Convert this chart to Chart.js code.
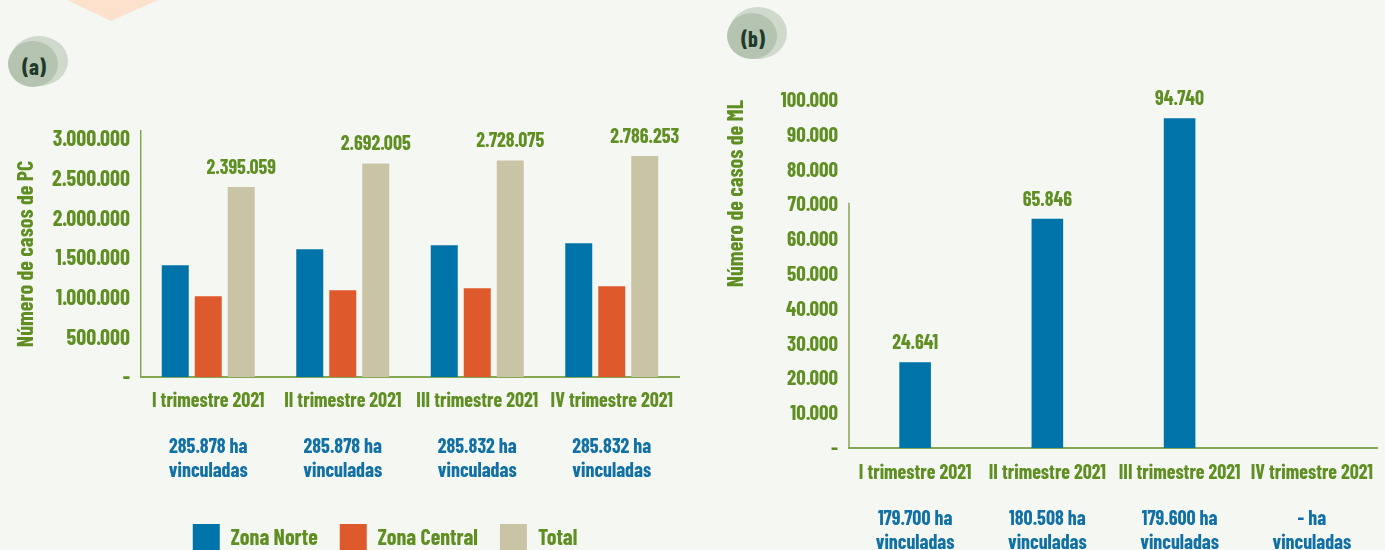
<!DOCTYPE html>
<html><head><meta charset="utf-8">
<script src="https://cdn.jsdelivr.net/npm/chart.js@4.4.1/dist/chart.umd.min.js"></script>
<style>
html,body{margin:0;padding:0;background:#f5f7f2;width:1385px;height:550px;overflow:hidden;}
#wrap{position:relative;width:1385px;height:550px;}
canvas{position:absolute;top:0;}
#ca{left:0;} #cb{left:690px;}
.badge{position:absolute;font-family:'Barlow Condensed','Roboto Condensed',sans-serif;font-weight:bold;font-size:22px;color:#1f3a2b;transform:translate(-50%,-50%);line-height:1;}
</style></head>
<body><div id="wrap">
<svg width="1385" height="550" style="position:absolute;left:0;top:0">
  <polygon points="67,0 158,0 111,21" fill="#fde1cd"/>
  <ellipse cx="39" cy="61" rx="29" ry="25" fill="#cfdacc"/>
  <ellipse cx="33" cy="64" rx="25" ry="23" fill="#b4c4b0"/>
  <ellipse cx="758" cy="33" rx="29" ry="26" fill="#cfdacc"/>
  <ellipse cx="752" cy="36" rx="25" ry="23" fill="#b4c4b0"/>
</svg>
<div class="badge" style="left:34px;top:66px">(a)</div>
<div class="badge" style="left:753px;top:38px">(b)</div>
<canvas id="ca" width="770" height="561"></canvas>
<canvas id="cb" width="695" height="600"></canvas>
</div>
<script>
// ---- data ----
const categories = ['I trimestre 2021', 'II trimestre 2021', 'III trimestre 2021', 'IV trimestre 2021'];
const haVinculadasA = [['285.878 ha', 'vinculadas'], ['285.878 ha', 'vinculadas'], ['285.832 ha', 'vinculadas'], ['285.832 ha', 'vinculadas']];
const zonaNorte = [1408000, 1609000, 1660000, 1685000];
const zonaCentral = [1017000, 1093000, 1118000, 1143000];
const totalPC = [2395059, 2692005, 2728075, 2786253];
const ticksPC = [0, 500000, 1000000, 1500000, 2000000, 2500000, 3000000];
const casosML = [24641, 65846, 94740, null];
const ticksML = [0, 10000, 20000, 30000, 40000, 50000, 60000, 70000, 80000, 90000, 100000];
const haVinculadasB = [['179.700 ha', 'vinculadas'], ['180.508 ha', 'vinculadas'], ['179.600 ha', 'vinculadas'], ['- ha', 'vinculadas']];
const seriesNames = ['Zona Norte', 'Zona Central', 'Total'];

// ---- style ----
const FONT = "'Barlow Condensed','Roboto Condensed','Open Sans Condensed',sans-serif";
const GREEN = '#5f8f22';
const BLUE_TXT = '#1170a5';
const C_BLUE = '#0074a9', C_ORANGE = '#de592c', C_BEIGE = '#c9c4a5';
const AXIS = '#84a852';

Chart.defaults.font.family = FONT;
Chart.defaults.font.weight = 'bold';
Chart.defaults.color = GREEN;

function fmt(v) {
  if (v === 0) return '-';
  return String(Math.round(v)).replace(/\B(?=(\d{3})+(?!\d))/g, '.');
}
const fixedTicks = arr => s => { s.ticks = arr.map(v => ({ value: v })); };

const valueLabels = {
  id: 'valueLabels',
  afterDatasetsDraw(chart, args, opts) {
    const ctx = chart.ctx;
    (opts.datasets || []).forEach(di => {
      const meta = chart.getDatasetMeta(di);
      meta.data.forEach((el, i) => {
        const v = chart.data.datasets[di].data[i];
        if (v == null) return;
        ctx.save();
        ctx.font = 'bold 20px ' + FONT;
        ctx.fillStyle = GREEN;
        ctx.textAlign = 'center';
        ctx.textBaseline = 'middle';
        ctx.fillText(fmt(v), el.x, el.y - 20);
        ctx.restore();
      });
    });
  }
};

const partialAxis = {
  id: 'partialAxis',
  afterDraw(chart, args, opts) {
    if (opts.from == null) return;
    const y = chart.scales.y;
    const ctx = chart.ctx;
    ctx.save();
    ctx.strokeStyle = AXIS;
    ctx.lineWidth = 1.5;
    ctx.beginPath();
    ctx.moveTo(y.right, y.getPixelForValue(opts.from));
    ctx.lineTo(y.right, y.getPixelForValue(0));
    ctx.stroke();
    ctx.restore();
  }
};

// ---- chart (a) ----
new Chart(document.getElementById('ca'), {
  type: 'bar',
  data: {
    labels: categories,
    datasets: [
      { label: seriesNames[0], data: zonaNorte, backgroundColor: C_BLUE },
      { label: seriesNames[1], data: zonaCentral, backgroundColor: C_ORANGE },
      { label: seriesNames[2], data: totalPC, backgroundColor: C_BEIGE }
    ]
  },
  options: {
    responsive: false,
    animation: false,
    devicePixelRatio: 1,
    layout: { padding: { top: 131, right: 0, bottom: 0, left: 0 } },
    datasets: { bar: { categoryPercentage: 0.736, barPercentage: 0.818 } },
    plugins: {
      tooltip: { enabled: false },
      valueLabels: { datasets: [2] },
      legend: {
        position: 'bottom',
        labels: { boxWidth: 27, boxHeight: 27, padding: 22, color: GREEN, font: { size: 22, weight: 'bold' } }
      }
    },
    scales: {
      y: {
        min: 0, max: 3100000,
        grid: { display: false, drawTicks: false },
        border: { display: true, color: AXIS, width: 1.5 },
        afterBuildTicks: fixedTicks(ticksPC),
        ticks: { padding: 11, color: GREEN, font: { size: 22, weight: 'bold' }, callback: v => fmt(v) },
        title: { display: true, text: 'Número de casos de PC', color: GREEN, font: { size: 22, weight: 'bold' }, padding: { top: 12, bottom: 0 } },
        afterFit: s => { s.width = 141; }
      },
      pad: {
        type: 'linear', position: 'right', display: true,
        grid: { display: false, drawTicks: false }, border: { display: false }, ticks: { display: false },
        afterFit: s => { s.width = 91; }
      },
      x: {
        grid: { display: false, drawTicks: false },
        border: { display: true, color: AXIS, width: 2 },
        ticks: { padding: 11, maxRotation: 0, autoSkip: false, color: GREEN, font: { size: 20, weight: 'bold' } },
        afterFit: s => { s.height = 46; }
      },
      x2: {
        type: 'category', position: 'bottom', labels: haVinculadasA,
        grid: { display: false, drawTicks: false }, border: { display: false },
        ticks: { padding: 12, maxRotation: 0, autoSkip: false, color: BLUE_TXT, font: { size: 20, weight: 'bold', lineHeight: 1.175 } },
        afterFit: s => { s.height = 79; }
      }
    }
  },
  plugins: [valueLabels]
});

// ---- chart (b) ----
new Chart(document.getElementById('cb'), {
  type: 'bar',
  data: {
    labels: categories,
    datasets: [{ label: 'ML', data: casosML, backgroundColor: C_BLUE }]
  },
  options: {
    responsive: false,
    animation: false,
    devicePixelRatio: 1,
    layout: { padding: { top: 100, right: 0, bottom: 0, left: 0 } },
    datasets: { bar: { categoryPercentage: 1, barPercentage: 0.239 } },
    plugins: {
      tooltip: { enabled: false },
      legend: { display: false },
      valueLabels: { datasets: [0] },
      partialAxis: { from: 70500 }
    },
    scales: {
      y: {
        min: 0, max: 100000,
        grid: { display: false, drawTicks: false },
        border: { display: false },
        afterBuildTicks: fixedTicks(ticksML),
        ticks: { padding: 11, color: GREEN, font: { size: 21, weight: 'bold' }, callback: v => fmt(v) },
        title: { display: true, align: 'end', text: 'Número de casos de ML', color: GREEN, font: { size: 22, weight: 'bold' }, padding: { top: 32, bottom: 0 } },
        afterFit: s => { s.width = 159; }
      },
      x: {
        grid: { display: false, drawTicks: false },
        border: { display: true, color: AXIS, width: 2 },
        ticks: { padding: 12, maxRotation: 0, autoSkip: false, color: GREEN, font: { size: 20, weight: 'bold' } },
        afterFit: s => { s.height = 47; }
      },
      x2: {
        type: 'category', position: 'bottom', labels: haVinculadasB,
        grid: { display: false, drawTicks: false }, border: { display: false },
        ticks: { padding: 12, maxRotation: 0, autoSkip: false, color: BLUE_TXT, font: { size: 20, weight: 'bold', lineHeight: 1.175 } },
        afterFit: s => { s.height = 105; }
      }
    }
  },
  plugins: [valueLabels, partialAxis]
});
</script>
</body></html>
